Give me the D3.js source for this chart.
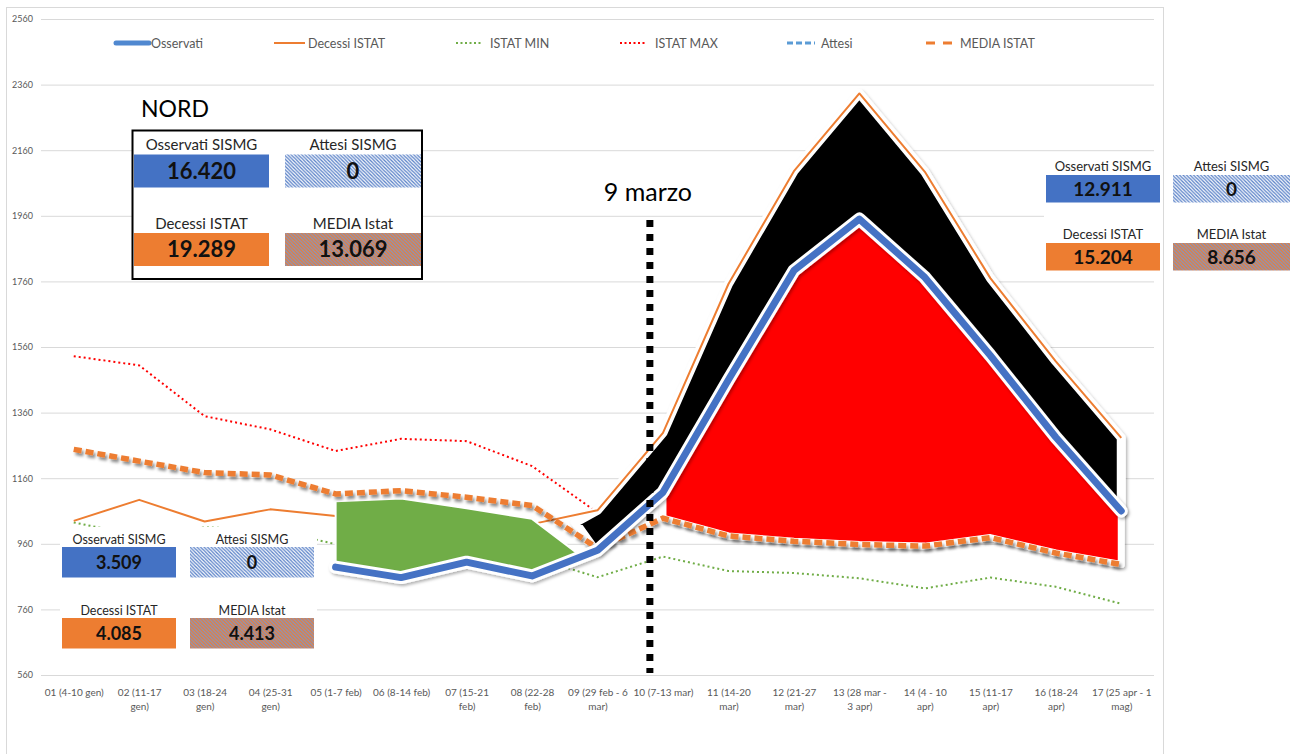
<!DOCTYPE html>
<html>
<head>
<meta charset="utf-8">
<script src="https://cdn.jsdelivr.net/npm/d3@7"></script>
<style>
  body { margin: 0; background: #fff; }
  text { font-family: Lato, "Open Sans", sans-serif; }
</style>
</head>
<body>
<script>
// ---------------------------------------------------------------- data
var weekLabels = ['01 (4-10 gen)', '02 (11-17|gen)', '03 (18-24|gen)', '04 (25-31|gen)',
  '05 (1-7 feb)', '06 (8-14 feb)', '07 (15-21|feb)', '08 (22-28|feb)', '09 (29 feb - 6|mar)',
  '10 (7-13 mar)', '11 (14-20|mar)', '12 (21-27|mar)', '13 (28 mar -|3 apr)', '14 (4 - 10|apr)',
  '15 (11-17|apr)', '16 (18-24|apr)', '17 (25 apr - 1|mag)'];

var yTicks = [560, 760, 960, 1160, 1360, 1560, 1760, 1960, 2160, 2360, 2560];

var osservati = [null, null, null, null, 889, 857, 904, 862, 940, 1117, 1460, 1793, 1950, 1772, 1534, 1285, 1060];
var decessi   = [1030, 1094, 1028, 1065, 1045, 1010, 1010, 1020, 1062, 1298, 1752, 2096, 2333, 2094, 1770, 1516, 1283];
var istatMin  = [1025, 985, 1010, 1004, 959, 945, 935, 920, 858, 921, 877, 871, 855, 824, 857, 829, 777];
var istatMax  = [1532, 1504, 1349, 1309, 1243, 1280, 1273, 1197, 1055, 1155, 1120, 1090, 1070, 1060, 1055, 1030, 1005];
var attesi    = [0, 0, 0, 0, 0, 0, 0, 0, 0, 0, 0, 0, 0, 0, 0, 0, 0];
var mediaIstat = [1248, 1212, 1177, 1170, 1112, 1122, 1102, 1077, 947, 1038, 984, 968, 958, 953, 979, 932, 897];

// shapes laid over the chart (week index, value)
var greenIdx = [4, 5, 6, 7];
var greenTop = [1090, 1098, 1068, 1036];
var greenTip = [7.7, 930];
var blackStart = [[7.66, 1025], [7.93, 950]];
var marchNine = 8.8;

var legendNames = ['Osservati', 'Decessi ISTAT', 'ISTAT MIN', 'ISTAT MAX', 'Attesi', 'MEDIA ISTAT'];
var boxLabels = ['Osservati SISMG', 'Attesi SISMG', 'Decessi ISTAT', 'MEDIA Istat'];
var nordValues  = ['16.420', '0', '19.289', '13.069'];
var prevValues  = ['3.509', '0', '4.085', '4.413'];
var afterValues = ['12.911', '0', '15.204', '8.656'];

// ---------------------------------------------------------------- setup
var W = 1293, H = 754;
var svg = d3.select('body').append('svg').attr('width', W).attr('height', H);
var defs = svg.append('defs');

var x = d3.scaleLinear().domain([-0.5, 16.5]).range([41, 1154]);
var y = d3.scaleLinear().domain([560, 2560]).range([675, 19]);

defs.append('clipPath').attr('id', 'clip')
  .append('rect').attr('x', 41).attr('y', 19).attr('width', 1113).attr('height', 656);

function shadow(id, dx, dy, blur, op) {
  var f = defs.append('filter').attr('id', id).attr('filterUnits', 'userSpaceOnUse')
    .attr('x', 0).attr('y', 0).attr('width', W).attr('height', H);
  f.append('feDropShadow').attr('dx', dx).attr('dy', dy).attr('stdDeviation', blur)
    .attr('flood-color', '#000').attr('flood-opacity', op);
}
shadow('shadow', 1.5, 2, 1.8, 0.3);
shadow('shadowDash', 2, 3, 1.5, 0.45);

function hatch(id, bg, fg) {
  var p = defs.append('pattern').attr('id', id).attr('patternUnits', 'userSpaceOnUse')
    .attr('width', 3.5).attr('height', 3.5);
  p.append('rect').attr('width', 3.5).attr('height', 3.5).attr('fill', bg);
  p.append('path').attr('d', 'M-1,-1 L4.5,4.5 M-1,2.5 L1,4.5 M2.5,-1 L4.5,1')
    .attr('stroke', fg).attr('stroke-width', 1.3);
}
hatch('hatchBlue', '#ffffff', '#5b82c8');
hatch('hatchOrange', '#ed7d31', '#8595c0');

// chart frame
svg.append('rect').attr('x', 6.5).attr('y', 7.5).attr('width', 1157).attr('height', 760)
  .attr('fill', 'none').attr('stroke', '#d9d9d9');

// ---------------------------------------------------------------- axes
var yAxis = svg.append('g').attr('transform', 'translate(41,0)')
  .call(d3.axisLeft(y).tickValues(yTicks).tickSize(-1113).tickPadding(8).tickFormat(d3.format('d')));
yAxis.select('.domain').remove();
yAxis.selectAll('line').attr('stroke', '#d9d9d9');
yAxis.selectAll('text').attr('fill', '#595959').style('font-size', '9px')
  .style('font-family', 'Lato, sans-serif');

var xAxis = svg.append('g').attr('transform', 'translate(0,675)')
  .call(d3.axisBottom(x).tickValues(d3.range(17)).tickSize(0).tickFormat(''));
xAxis.select('.domain').remove();
xAxis.selectAll('.tick').each(function (i) {
  var t = d3.select(this).append('text').attr('fill', '#595959').attr('text-anchor', 'middle')
    .style('font-size', '10px').attr('y', 21);
  weekLabels[i].split('|').forEach(function (s, k) {
    t.append('tspan').attr('x', 0).attr('dy', k ? 14 : 0).text(s);
  });
});

// ---------------------------------------------------------------- marks
function pts(arr) { return arr.map(function (v, i) { return [i, v]; }); }
var line = d3.line().defined(function (d) { return d[1] != null; })
  .x(function (d) { return x(d[0]); }).y(function (d) { return y(d[1]); });

var plot = svg.append('g').attr('clip-path', 'url(#clip)');

plot.append('path').attr('d', line(pts(istatMax))).attr('fill', 'none')
  .attr('stroke', '#ff0000').attr('stroke-width', 2).attr('stroke-dasharray', '2,3');
plot.append('path').attr('d', line(pts(istatMin))).attr('fill', 'none')
  .attr('stroke', '#70ad47').attr('stroke-width', 2).attr('stroke-dasharray', '2,3');
plot.append('path').attr('d', line(pts(attesi))).attr('fill', 'none')
  .attr('stroke', '#5b9bd5').attr('stroke-width', 3).attr('stroke-dasharray', '6,3');

// black shape: between Decessi ISTAT and Osservati
var blackPts = [blackStart[0]].concat(pts(decessi).slice(8))
  .concat(pts(osservati).slice(8).reverse()).concat([blackStart[1]]);
plot.append('path').attr('d', line(blackPts) + 'Z').attr('fill', '#000')
  .attr('stroke', '#fff').attr('stroke-width', 9).attr('stroke-linejoin', 'round')
  .attr('filter', 'url(#shadow)');

// red shape: between Osservati and MEDIA ISTAT
var redPts = pts(osservati).slice(9).concat(pts(mediaIstat).slice(9).reverse());
plot.append('path').attr('d', line(redPts) + 'Z').attr('fill', '#ff0000')
  .attr('stroke', '#fff').attr('stroke-width', 7).attr('stroke-linejoin', 'round')
  .attr('filter', 'url(#shadow)');

plot.append('path').attr('d', line(pts(decessi))).attr('fill', 'none')
  .attr('stroke', '#ed7d31').attr('stroke-width', 2).attr('stroke-linejoin', 'round');

// green shape: Osservati below MEDIA ISTAT
var greenPts = greenIdx.map(function (i, k) { return [i, greenTop[k]]; })
  .concat([greenTip])
  .concat(greenIdx.map(function (i) { return [i, osservati[i]]; }).reverse());
plot.append('path').attr('d', line(greenPts) + 'Z').attr('fill', '#70ad47')
  .attr('stroke', '#fff').attr('stroke-width', 2);

plot.append('path').attr('d', line(pts(mediaIstat))).attr('fill', 'none')
  .attr('stroke', '#ed7d31').attr('stroke-width', 5.5).attr('stroke-dasharray', '8,4')
  .attr('filter', 'url(#shadowDash)');

var blue = plot.append('g').attr('filter', 'url(#shadow)');
blue.append('path').attr('d', line(pts(osservati))).attr('fill', 'none')
  .attr('stroke', '#fff').attr('stroke-width', 13).attr('stroke-linejoin', 'round').attr('stroke-linecap', 'round');
blue.append('path').attr('d', line(pts(osservati))).attr('fill', 'none')
  .attr('stroke', '#4472c4').attr('stroke-width', 7).attr('stroke-linejoin', 'round').attr('stroke-linecap', 'round');

// 9 marzo marker
svg.append('line').attr('x1', x(marchNine)).attr('x2', x(marchNine)).attr('y1', 220).attr('y2', 673)
  .attr('stroke', '#000').attr('stroke-width', 7).attr('stroke-dasharray', '7,7');
svg.append('text').attr('x', x(marchNine) - 2).attr('y', 201).attr('text-anchor', 'middle')
  .style('font-size', '25px').attr('fill', '#000').text('9 marzo');

// ---------------------------------------------------------------- legend
var legend = svg.append('g').attr('transform', 'translate(0,43)');
var legX = [116, 274, 456, 620, 787, 926];
var legTx = [151, 308, 490, 655, 821, 960];
var legW = [33, 31, 25, 25, 28, 28];
var legStyle = [
  { c: '#5088d0', w: 5, d: null, cap: 'round' },
  { c: '#ed7d31', w: 2, d: null, cap: 'butt' },
  { c: '#70ad47', w: 2, d: '2,2.5', cap: 'butt' },
  { c: '#ff0000', w: 2, d: '2,2.5', cap: 'butt' },
  { c: '#5b9bd5', w: 3, d: '6,3', cap: 'butt' },
  { c: '#ed7d31', w: 3, d: '9,8', cap: 'butt' }
];
legendNames.forEach(function (n, k) {
  legend.append('line').attr('x1', legX[k]).attr('x2', legX[k] + legW[k]).attr('y1', 0).attr('y2', 0)
    .attr('stroke', legStyle[k].c).attr('stroke-width', legStyle[k].w)
    .attr('stroke-dasharray', legStyle[k].d).attr('stroke-linecap', legStyle[k].cap);
  legend.append('text').attr('x', legTx[k]).attr('y', 4.5).attr('fill', '#595959')
    .style('font-size', '12.5px').text(n);
});

// ---------------------------------------------------------------- value boxes
function valueBox(b, values) {
  var fills = ['#4472c4', 'url(#hatchBlue)', '#ed7d31', 'url(#hatchOrange)'];
  for (var k = 0; k < 4; k++) {
    var col = k % 2, row = Math.floor(k / 2);
    var rx = col ? b.x1 : b.x0, rw = col ? b.w1 : b.w0, ry = row ? b.y1 : b.y0;
    svg.append('text').attr('x', rx + rw / 2).attr('y', ry - b.gap).attr('text-anchor', 'middle')
      .attr('fill', '#262626').style('font-size', b.ls + 'px').text(boxLabels[k]);
    svg.append('rect').attr('x', rx).attr('y', ry).attr('width', rw).attr('height', b.h).attr('fill', fills[k]);
    svg.append('text').attr('x', rx + rw / 2).attr('y', ry + b.h / 2 + b.ns * 0.36)
      .attr('text-anchor', 'middle').attr('fill', '#111').style('font-size', b.ns + 'px')
      .style('font-weight', 'bold').text(values[k]);
  }
}

// NORD box
svg.append('rect').attr('x', 132.5).attr('y', 130.5).attr('width', 289.5).attr('height', 148.5)
  .attr('fill', '#fff').attr('stroke', '#000').attr('stroke-width', 2);
svg.append('text').attr('x', 141).attr('y', 117).style('font-size', '23px').attr('fill', '#000').text('NORD');
valueBox({ x0: 134, w0: 135, x1: 285, w1: 136, y0: 154.5, y1: 233, h: 33, gap: 4.5, ls: 15, ns: 22 }, nordValues);

// before 9 marzo
svg.append('rect').attr('x', 60).attr('y', 527).attr('width', 257).attr('height', 124).attr('fill', '#fff');
valueBox({ x0: 62, w0: 114, x1: 190, w1: 124, y0: 547, y1: 618, h: 30.5, gap: 3, ls: 12.5, ns: 18 }, prevValues);

// after 9 marzo
svg.append('rect').attr('x', 1044).attr('y', 157).attr('width', 118).attr('height', 119).attr('fill', '#fff');
valueBox({ x0: 1046, w0: 114, x1: 1173, w1: 117, y0: 175, y1: 243, h: 27.5, gap: 4.5, ls: 13, ns: 19 }, afterValues);
</script>
</body>
</html>
